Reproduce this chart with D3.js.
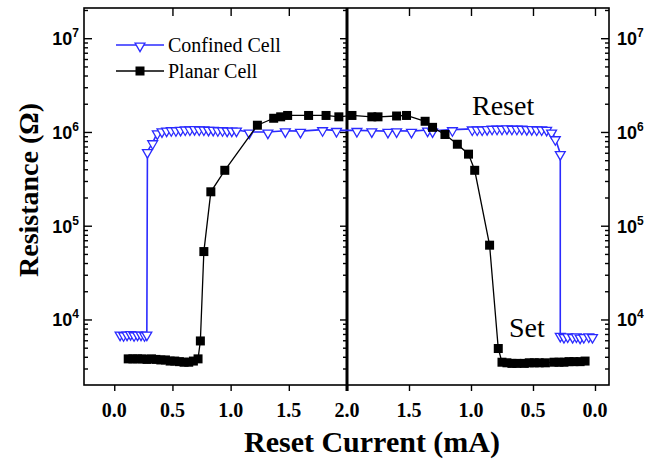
<!DOCTYPE html>
<html>
<head>
<meta charset="utf-8">
<script src="https://cdn.jsdelivr.net/npm/d3@7"></script>
<style>
  body { margin: 0; background: #fff; }
  svg { display: block; }
</style>
</head>
<body>
<svg width="652" height="463"></svg>
<script>
// Data: two sweeps, left panel goes 0 -> 2.0 mA, right panel comes back 2.0 -> 0
const confinedLeftI = [0.05, 0.08, 0.11, 0.14, 0.17, 0.20, 0.23, 0.26, 0.28, 0.285, 0.33, 0.37, 0.41, 0.45, 0.49, 0.53, 0.57, 0.61, 0.65, 0.69, 0.73, 0.77, 0.81, 0.85, 0.89, 0.93, 0.97, 1.01, 1.05, 1.16, 1.32, 1.47, 1.60, 1.79, 1.91];
const confinedLeftR = [7.0e3, 6.9e3, 7.0e3, 7.1e3, 6.9e3, 7.0e3, 7.0e3, 6.9e3, 7.0e3, 6.2e5, 7.7e5, 9.8e5, 1.03e6, 1.05e6, 1.06e6, 1.06e6, 1.07e6, 1.08e6, 1.08e6, 1.09e6, 1.08e6, 1.08e6, 1.07e6, 1.07e6, 1.06e6, 1.06e6, 1.05e6, 1.05e6, 1.05e6, 1.0e6, 1.0e6, 1.03e6, 1.02e6, 1.06e6, 1.04e6];
const confinedRightI = [1.92, 1.80, 1.67, 1.60, 1.48, 1.35, 1.31, 1.15, 0.99, 0.95, 0.91, 0.87, 0.83, 0.79, 0.75, 0.71, 0.67, 0.63, 0.59, 0.55, 0.51, 0.47, 0.43, 0.39, 0.35, 0.32, 0.28, 0.28, 0.25, 0.22, 0.18, 0.15, 0.12, 0.09, 0.05, 0.02];
const confinedRightR = [1.04e6, 1.03e6, 1.02e6, 1.03e6, 1.02e6, 1.05e6, 1.03e6, 1.06e6, 1.08e6, 1.08e6, 1.08e6, 1.09e6, 1.1e6, 1.1e6, 1.1e6, 1.11e6, 1.1e6, 1.1e6, 1.1e6, 1.09e6, 1.09e6, 1.08e6, 1.08e6, 1.07e6, 1.0e6, 8.5e5, 5.9e5, 6.8e3, 6.6e3, 6.7e3, 6.6e3, 6.7e3, 6.5e3, 6.6e3, 6.7e3, 6.6e3];

const planarLeftI = [0.12, 0.16, 0.20, 0.24, 0.28, 0.32, 0.36, 0.40, 0.44, 0.48, 0.52, 0.56, 0.60, 0.64, 0.68, 0.72, 0.74, 0.77, 0.83, 0.95, 1.23, 1.37, 1.43, 1.49, 1.67, 1.82, 1.93];
const planarLeftR = [3.8e3, 3.8e3, 3.8e3, 3.8e3, 3.75e3, 3.8e3, 3.75e3, 3.7e3, 3.7e3, 3.6e3, 3.6e3, 3.55e3, 3.5e3, 3.5e3, 3.6e3, 3.8e3, 5.9e3, 5.3e4, 2.3e5, 3.9e5, 1.18e6, 1.4e6, 1.45e6, 1.5e6, 1.5e6, 1.5e6, 1.45e6];
const planarRightI = [1.96, 1.80, 1.75, 1.60, 1.52, 1.37, 1.31, 1.21, 1.11, 1.02, 0.97, 0.85, 0.78, 0.75, 0.71, 0.67, 0.63, 0.57, 0.53, 0.49, 0.45, 0.40, 0.33, 0.29, 0.25, 0.21, 0.17, 0.12, 0.08];
const planarRightR = [1.5e6, 1.45e6, 1.45e6, 1.48e6, 1.5e6, 1.3e6, 1.12e6, 9.4e5, 7.4e5, 5.8e5, 3.9e5, 6.2e4, 4.9e3, 3.5e3, 3.45e3, 3.4e3, 3.4e3, 3.4e3, 3.45e3, 3.45e3, 3.45e3, 3.45e3, 3.5e3, 3.5e3, 3.5e3, 3.55e3, 3.55e3, 3.55e3, 3.6e3];

const xTicksLeft = [0, 0.5, 1.0, 1.5, 2.0];
const xTicksRight = [1.5, 1.0, 0.5, 0.0];
const yMajor = [1e4, 1e5, 1e6, 1e7];
const yMinor = [];
for (let d = 1e3; d < 1e8; d *= 10) {
    for (let k = 2; k <= 9; k++) {
        if (d * k > 2000 && d * k < 2.1e7) yMinor.push(d * k);
    }
}

const blue = "#2b2bff";

const svg = d3.select("svg");

const pLeft = 84, pRight = 609, pTop = 8, pBottom = 385, pMid = 347;

const xL = d3.scaleLinear().domain([-0.26, 2.0]).range([pLeft, pMid]);
const xR = d3.scaleLinear().domain([2.0, -0.113]).range([pMid, pRight]);
const y = d3.scaleLog().domain([2000, 2.1e7]).range([pBottom, pTop]);

// Axes (ticks only, labels are drawn separately)
const noLabel = () => "";

const drawAxis = (axis, tx, ty) => {
    const g = svg.append("g").attr("transform", `translate(${tx},${ty})`).call(axis);
    g.select(".domain").remove();
    g.selectAll("line").attr("stroke", "#000").attr("stroke-width", 1.4);
    return g;
};

// bottom ticks (outward)
drawAxis(d3.axisBottom(xL).tickValues(xTicksLeft).tickSize(6).tickFormat(noLabel), 0, pBottom);
drawAxis(d3.axisBottom(xR).tickValues(xTicksRight).tickSize(6).tickFormat(noLabel), 0, pBottom);
// top ticks (inward)
drawAxis(d3.axisTop(xL).tickValues(xTicksLeft.slice(1, 4)).tickSize(-8).tickFormat(noLabel), 0, pTop);
drawAxis(d3.axisTop(xR).tickValues(xTicksRight).tickSize(-8).tickFormat(noLabel), 0, pTop);
// left, middle, right y ticks
drawAxis(d3.axisLeft(y).tickValues(yMajor).tickSize(-8).tickFormat(noLabel), pLeft, 0);
drawAxis(d3.axisLeft(y).tickValues(yMinor).tickSize(-4).tickFormat(noLabel), pLeft, 0);
drawAxis(d3.axisRight(y).tickValues(yMajor).tickSize(-8).tickFormat(noLabel), pRight, 0);
drawAxis(d3.axisRight(y).tickValues(yMinor).tickSize(-4).tickFormat(noLabel), pRight, 0);
drawAxis(d3.axisLeft(y).tickValues(yMajor).tickSize(7).tickFormat(noLabel), pMid, 0);
drawAxis(d3.axisLeft(y).tickValues(yMinor).tickSize(4).tickFormat(noLabel), pMid, 0);

// frame
svg.append("rect")
    .attr("x", pLeft).attr("y", pTop)
    .attr("width", pRight - pLeft).attr("height", pBottom - pTop)
    .attr("fill", "none").attr("stroke", "#000").attr("stroke-width", 1.6);
svg.append("line")
    .attr("x1", pMid).attr("x2", pMid).attr("y1", pTop).attr("y2", pBottom + 6)
    .attr("stroke", "#000").attr("stroke-width", 3);

// x tick labels
const fmt = d3.format(".1f");
const xLabels = xTicksLeft.map(v => ({ x: xL(v), t: fmt(v) }))
    .concat(xTicksRight.map(v => ({ x: xR(v), t: fmt(v) })));
svg.selectAll(".xl").data(xLabels).join("text")
    .attr("x", d => d.x).attr("y", 417)
    .attr("text-anchor", "middle")
    .attr("font-family", "'Liberation Serif', 'Times New Roman', serif")
    .attr("font-weight", "bold").attr("font-size", 20)
    .text(d => d.t);

// y tick labels (10^n), both sides
const exp = v => Math.round(Math.log10(v));
const yLab = (xPos, anchor) => {
    const t = svg.selectAll(null).data(yMajor).join("text")
        .attr("x", xPos).attr("y", d => y(d) + 7)
        .attr("text-anchor", anchor)
        .attr("font-family", "'Liberation Sans', Arial, sans-serif")
        .attr("font-weight", "bold").attr("font-size", 18);
    t.append("tspan").text("10");
    t.append("tspan").attr("dy", -8).attr("font-size", 12).text(d => exp(d));
};
yLab(79, "end");
yLab(617, "start");

// axis titles
svg.append("text")
    .attr("transform", "translate(38,190) rotate(-90)")
    .attr("text-anchor", "middle")
    .attr("font-family", "'Liberation Serif', 'Times New Roman', serif")
    .attr("font-weight", "bold").attr("font-size", 28)
    .text("Resistance (\u03A9)");
svg.append("text")
    .attr("x", 372).attr("y", 452)
    .attr("text-anchor", "middle")
    .attr("font-family", "'Liberation Serif', 'Times New Roman', serif")
    .attr("font-weight", "bold").attr("font-size", 30)
    .text("Reset Current (mA)");

// series
const pts = (li, lr, ri, rr) =>
    li.map((v, i) => [xL(v), y(lr[i])]).concat(ri.map((v, i) => [xR(v), y(rr[i])]));

const confined = pts(confinedLeftI, confinedLeftR, confinedRightI, confinedRightR);
const planar = pts(planarLeftI, planarLeftR, planarRightI, planarRightR);

const line = d3.line();
const tri = d3.symbol().type(d3.symbolTriangle).size(42);

svg.append("path").attr("d", line(confined))
    .attr("fill", "none").attr("stroke", blue).attr("stroke-width", 1.6);
svg.selectAll(".tri").data(confined).join("path")
    .attr("d", tri)
    .attr("transform", d => `translate(${d[0]},${d[1] + 1}) rotate(180)`)
    .attr("fill", "#fff").attr("stroke", blue).attr("stroke-width", 1.3);

svg.append("path").attr("d", line(planar))
    .attr("fill", "none").attr("stroke", "#000").attr("stroke-width", 1.3);
svg.selectAll(".sq").data(planar).join("rect")
    .attr("x", d => d[0] - 4.5).attr("y", d => d[1] - 4.5)
    .attr("width", 9).attr("height", 9)
    .attr("fill", "#000");

// legend
const lg = svg.append("g");
lg.append("line").attr("x1", 116).attr("x2", 164).attr("y1", 45).attr("y2", 45)
    .attr("stroke", blue).attr("stroke-width", 1.6);
lg.append("path").attr("d", tri).attr("transform", "translate(140,46) rotate(180)")
    .attr("fill", "#fff").attr("stroke", blue).attr("stroke-width", 1.3);
lg.append("line").attr("x1", 116).attr("x2", 164).attr("y1", 71).attr("y2", 71)
    .attr("stroke", "#000").attr("stroke-width", 1.3);
lg.append("rect").attr("x", 135.5).attr("y", 66.5).attr("width", 9).attr("height", 9).attr("fill", "#000");
lg.selectAll("text").data(["Confined Cell", "Planar Cell"]).join("text")
    .attr("x", 168).attr("y", (d, i) => 52 + i * 26)
    .attr("font-family", "'Liberation Serif', 'Times New Roman', serif")
    .attr("font-size", 20)
    .text(d => d);

// annotations
svg.append("text").attr("x", 472).attr("y", 115)
    .attr("font-family", "'Liberation Serif', 'Times New Roman', serif")
    .attr("font-size", 28).text("Reset");
svg.append("text").attr("x", 509).attr("y", 337)
    .attr("font-family", "'Liberation Serif', 'Times New Roman', serif")
    .attr("font-size", 28).text("Set");
</script>
</body>
</html>
